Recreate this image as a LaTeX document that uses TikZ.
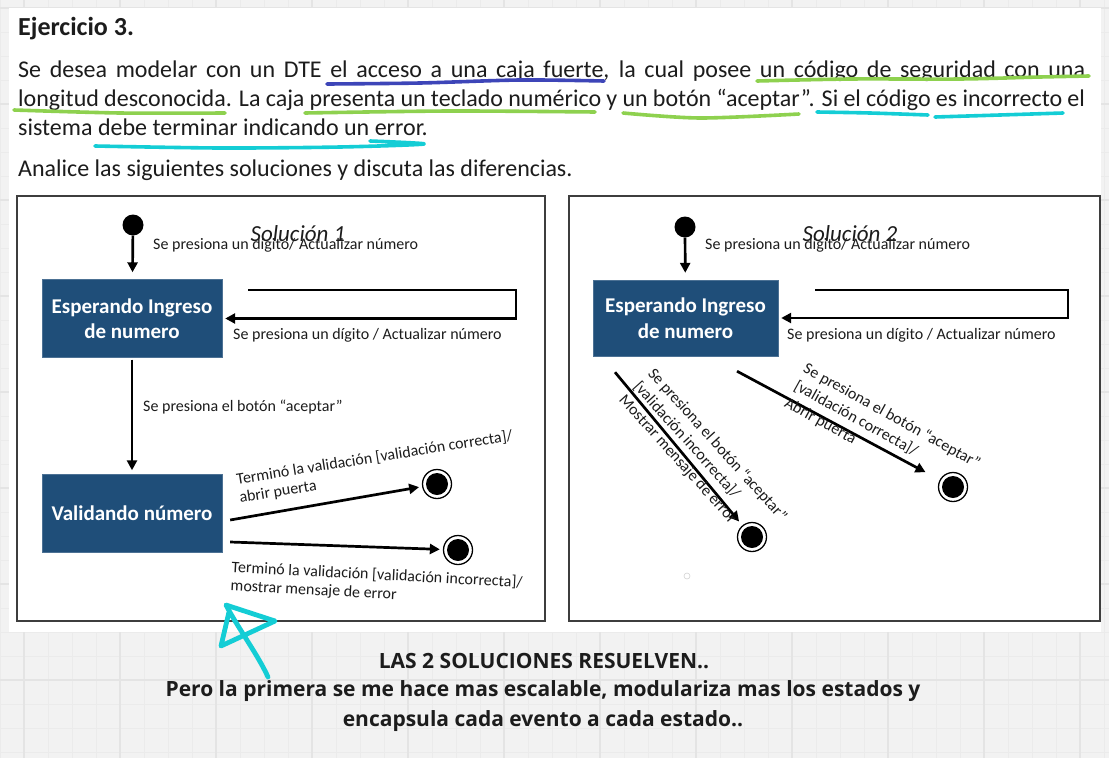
\documentclass[tikz,border=0pt]{standalone}
\usepackage{fontspec}
\setmainfont{Carlito}
\newfontfamily\notefont{Open Sans}
\usetikzlibrary{arrows.meta, positioning}
\definecolor{stateblue}{HTML}{1F4E79}
\definecolor{inkblack}{HTML}{1C1C1C}
\definecolor{penblue}{HTML}{3D45B8}
\definecolor{pengreen}{HTML}{8ED14F}
\definecolor{pencyan}{HTML}{14CDD5}
\definecolor{boardgray}{HTML}{F2F2F2}
\definecolor{gridminor}{HTML}{EBEBEB}
\definecolor{gridmajor}{HTML}{E4E4E4}
\tikzset{
  trans/.style={-{Triangle[length=10pt,width=10pt]}, line width=2.7pt}, % every transition
  statebox/.style={fill=stateblue, draw=stateblue!80, text=white, align=center,
    font=\bfseries\fontsize{21}{25.5}\selectfont, minimum width=180pt,
    minimum height=78pt, inner sep=0pt}, % the two blue states
  initdot/.style={circle, fill=black, minimum size=21pt, inner sep=0pt}, % start
  finaldot/.style={circle, draw=black, fill=white, line width=1.3pt,
    minimum size=29pt, inner sep=0pt,
    path picture={\fill[black] (path picture bounding box.center) circle (11pt);}},
  evt/.style={inner sep=0pt, text=inkblack, font=\fontsize{16}{18.5}\selectfont}, % event texts
  evtwide/.style={evt, font=\fontsize{16}{19.5}\selectfont, align=left, anchor=west},
  soltitle/.style={inner sep=0pt, anchor=base, text=inkblack,
    font=\itshape\fontsize{23}{26}\selectfont},
  para/.style={inner sep=0pt, anchor=base west, text=inkblack,
    font=\fontsize{24}{29}\selectfont},
  frame/.style={draw=inkblack!85, line width=2pt},
  pen/.style={line width=3.6pt, line cap=round, line join=round}, % marker strokes
  note/.style={inner sep=0pt, text=inkblack, font=\notefont\bfseries\fontsize{21}{24}\selectfont},
}

\begin{document}
\begin{tikzpicture}[x=1pt, y=-1pt]
  \useasboundingbox (0,0) rectangle (1109,758);

  % whiteboard
  \fill[boardgray] (0,0) rectangle (1109,758);
  \foreach \gx in {0,24,...,1104}
    \draw[gridminor, line width=0.8pt] (\gx,0) -- (\gx,758);
  \foreach \gy in {8,32,...,752}
    \draw[gridminor, line width=0.8pt] (0,\gy) -- (1109,\gy);
  \foreach \gx in {24,120,...,1080}
    \draw[gridmajor, line width=1.2pt] (\gx,0) -- (\gx,758);
  \foreach \gy in {8,104,...,728}
    \draw[gridmajor, line width=1.2pt] (0,\gy) -- (1109,\gy);
  \fill[white] (9,8) rectangle (1101,632);

  % statement
  \node[para, font=\bfseries\fontsize{26}{29}\selectfont] (ejercicio) at (18,35) {Ejercicio 3.};
  \node[para] (line1) at (18,77) {\makebox[1067pt][s]{Se desea modelar con un DTE el acceso a una caja fuerte, la cual posee un código de seguridad con una}};
  \node[para] (line2) at (18,106) {\makebox[1067pt][s]{longitud desconocida. La caja presenta un teclado numérico y un botón “aceptar”. Si el código es incorrecto el}};
  \node[para] (line3) at (18,135) {sistema debe terminar indicando un error.};
  \node[para] (analice) at (18,176) {Analice las siguientes soluciones y discuta las diferencias.};

  % marker underlines
  \draw[pen, penblue] plot[smooth] coordinates {(327,84) (420,83) (520,80) (604,81)};
  \draw[pen, pengreen] plot[smooth] coordinates {(757,81) (850,79) (960,79) (1040,77) (1089,76)};
  \draw[pen, pengreen] plot[smooth] coordinates {(14,110) (120,113) (225,113)};
  \draw[pen, pengreen] plot[smooth] coordinates {(305,113) (450,111) (595,112)};
  \draw[pen, pengreen] plot[smooth] coordinates {(623,113) (700,118) (799,114)};
  \draw[pen, pencyan] plot[smooth] coordinates {(817,112) (870,113) (928,115)};
  \draw[pen, pencyan] plot[smooth] coordinates {(935,117) (1000,115) (1063,113)};
  \draw[pen, pencyan] plot[smooth] coordinates {(95,146) (220,148) (340,147) (424,144) (370,141)};

  % the two solutions
  \draw[frame] (17,196) rectangle (545,621);
  \draw[frame] (569,196) rectangle (1100,621);

  % Solucion 1
  \node[soltitle] (sol1) at (298,241) {Solución 1};
  \node[initdot] (ini1) at (133,225) {};
  \node[statebox] (esp1) at (132,318.5) {Esperando Ingreso\\de numero};
  \node[statebox] (val1) at (132,513.5) {Validando número};
  \node[finaldot] (fin1a) at (437,484) {};
  \node[finaldot] (fin1b) at (458,550) {};
  \coordinate (loop1) at (248,290);

  \draw[trans, shorten >=7pt] (ini1) -- (esp1);
  \draw[trans] (loop1) -- (516,290) |- ([xshift=3pt]esp1.east);
  \draw[trans, shorten <=2pt, shorten >=4pt] (esp1) -- (val1);
  \draw[trans, shorten >=3pt] ([shift={(8,6.5)}]val1.east) -- (fin1a);
  \draw[trans, shorten >=3pt] ([shift={(8,28.5)}]val1.east) -- (fin1b);

  \node[evt, anchor=base west] at (153,249) {Se presiona un dígito/ Actualizar número};
  \node[evt, anchor=base west] at (233,339) {Se presiona un dígito / Actualizar número};
  \node[evt, anchor=base west] at (143,411) {Se presiona el botón “aceptar”};
  \node[evt, align=left, anchor=west, rotate=9] at (238,489)
    {Terminó la validación [validación correcta]/\\abrir puerta};
  \node[evt, align=left, anchor=west, rotate=-3] at (231,577)
    {Terminó la validación [validación incorrecta]/\\mostrar mensaje de error};

  % Solucion 2
  \node[soltitle] (sol2) at (850,241) {Solución 2};
  \node[initdot] (ini2) at (685,227) {};
  \node[statebox, minimum width=185pt, minimum height=76pt] (esp2) at (685.5,318) {Esperando Ingreso\\de numero};
  \node[finaldot] (fin2a) at (752,537) {};
  \node[finaldot] (fin2b) at (953,487) {};
  \coordinate (loop2) at (815,290);

  \draw[trans, shorten >=7pt] (ini2) -- (esp2);
  \draw[trans] (loop2) -- (1068,290) |- ([xshift=3pt]esp2.east);
  \draw[trans, shorten >=5pt] ([shift={(-70.5,16)}]esp2.south) -- (fin2a);
  \draw[trans, shorten >=16pt] ([shift={(51.5,15)}]esp2.south) -- (fin2b);

  \node[evt, anchor=base west] at (705,249) {Se presiona un dígito/ Actualizar número};
  \node[evt, anchor=base west] at (787,339) {Se presiona un dígito / Actualizar número};
  \node[evtwide, rotate=-48] at (636,384)
    {Se presiona el botón “aceptar”\\{}[validación incorrecta]/\\Mostrar mensaje de error};
  \node[evtwide, rotate=-29] at (795,385)
    {Se presiona el botón “aceptar”\\{}[validación correcta]/\\Abrir puerta};
  \draw[gray!35, line width=0.6pt] (687,576) circle (3pt);

  % comment on the whiteboard
  \draw[pen, pencyan, line width=4.8pt] (268,677) .. controls (258,655) and (238,628) .. (226,605)
    -- (275,621) -- (221,646) -- (229,612);
  \node[note] (note1) at (544,661) {LAS 2 SOLUCIONES RESUELVEN..};
  \node[note] (note2) at (543,691) {Pero la primera se me hace mas escalable, modulariza mas los estados y};
  \node[note] (note3) at (543,721) {encapsula cada evento a cada estado..};
\end{tikzpicture}
\end{document}
